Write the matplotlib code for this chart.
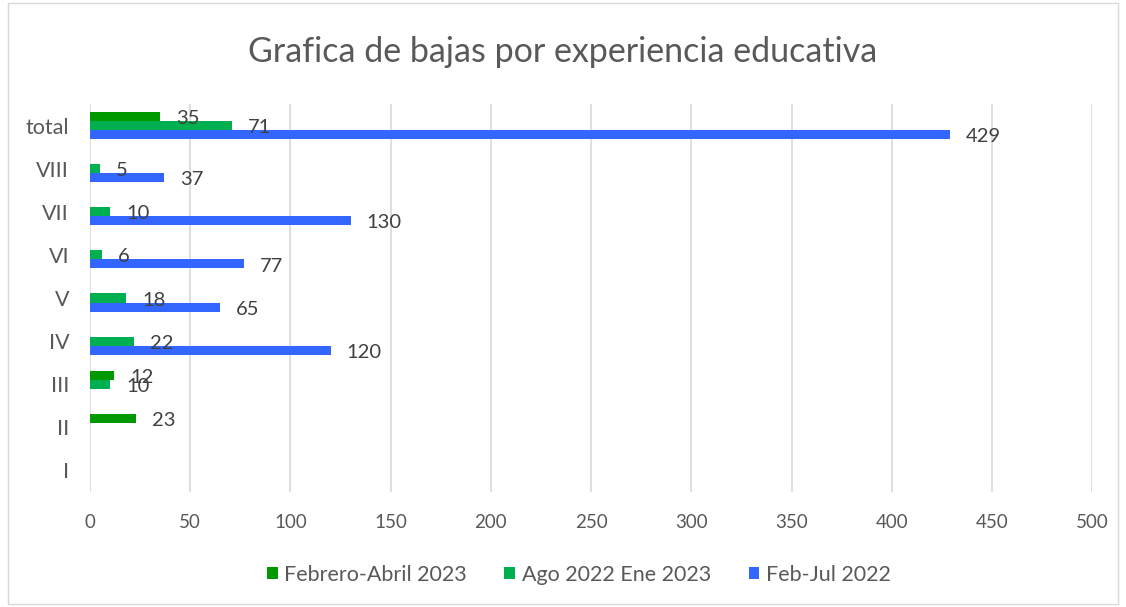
import numpy as np
import matplotlib.pyplot as plt
from matplotlib.patches import Rectangle

plt.rcParams['font.family'] = ['Lato', 'DejaVu Sans']

# categorias de abajo hacia arriba
categorias = ["I", "II", "III", "IV", "V", "VI", "VII", "VIII", "total"]
series = ["Febrero-Abril 2023", "Ago 2022 Ene 2023", "Feb-Jul 2022"]
feb_abr_2023 = [np.nan, 23, 12, np.nan, np.nan, np.nan, np.nan, np.nan, 35]
ago22_ene23 = [np.nan, np.nan, 10, 22, 18, 6, 10, 5, 71]
feb_jul_2022 = [np.nan, np.nan, np.nan, 120, 65, 77, 130, 37, 429]
colores = ["#009900", "#00B050", "#3366FF"]
xticks = [0, 50, 100, 150, 200, 250, 300, 350, 400, 450, 500]

fig = plt.figure(figsize=(11.26, 6.07), dpi=100)
ax = fig.add_axes([0.0799, 0.1895, 0.8901, 0.6392])

y = np.arange(len(categorias))
h = 0.21
offsets = [h, 0, -h]
texto = "#404040"

for datos, nombre, color, off in zip([feb_abr_2023, ago22_ene23, feb_jul_2022], series, colores, offsets):
    vals = np.array(datos, dtype=float)
    bars = ax.barh(y + off, np.nan_to_num(vals), height=h, color=color, label=nombre)
    for b, v in zip(bars, vals):
        if np.isnan(v):
            continue
        ax.annotate(f"{int(v)}", xy=(v, b.get_y() + b.get_height() / 2),
                    xytext=(11.5, -1.5), textcoords="offset points",
                    ha="left", va="center", fontsize=14.5, color=texto)

ax.set_xlim(0, 500)
ax.set_ylim(-0.5, len(categorias) - 0.5)
ax.set_xticks(xticks)
ax.set_yticks(y)
ax.set_yticklabels(categorias)
ax.tick_params(axis="both", length=0, labelcolor="#595959")
ax.tick_params(axis="x", pad=16, labelsize=13.5)
ax.tick_params(axis="y", pad=15, labelsize=15.5)
ax.grid(axis="x", color="#D9D9D9", linewidth=1.2)
ax.set_axisbelow(True)
for s in ax.spines.values():
    s.set_visible(False)

fig.suptitle("Grafica de bajas por experiencia educativa", y=0.94,
             fontsize=24.5, color="#595959")

ax.legend(loc="center", bbox_to_anchor=(0.514, 0.053), bbox_transform=fig.transFigure,
          ncol=3, frameon=False, fontsize=15.5, handlelength=0.5, handleheight=0.5,
          handletextpad=0.3, columnspacing=1.75, labelcolor="#595959")

# borde del area del grafico
fig.patches.append(Rectangle((0.007, 0.005), 0.986, 0.99, transform=fig.transFigure,
                             fill=False, edgecolor="#D9D9D9", linewidth=1))

fig.savefig("out.png", dpi=100)
